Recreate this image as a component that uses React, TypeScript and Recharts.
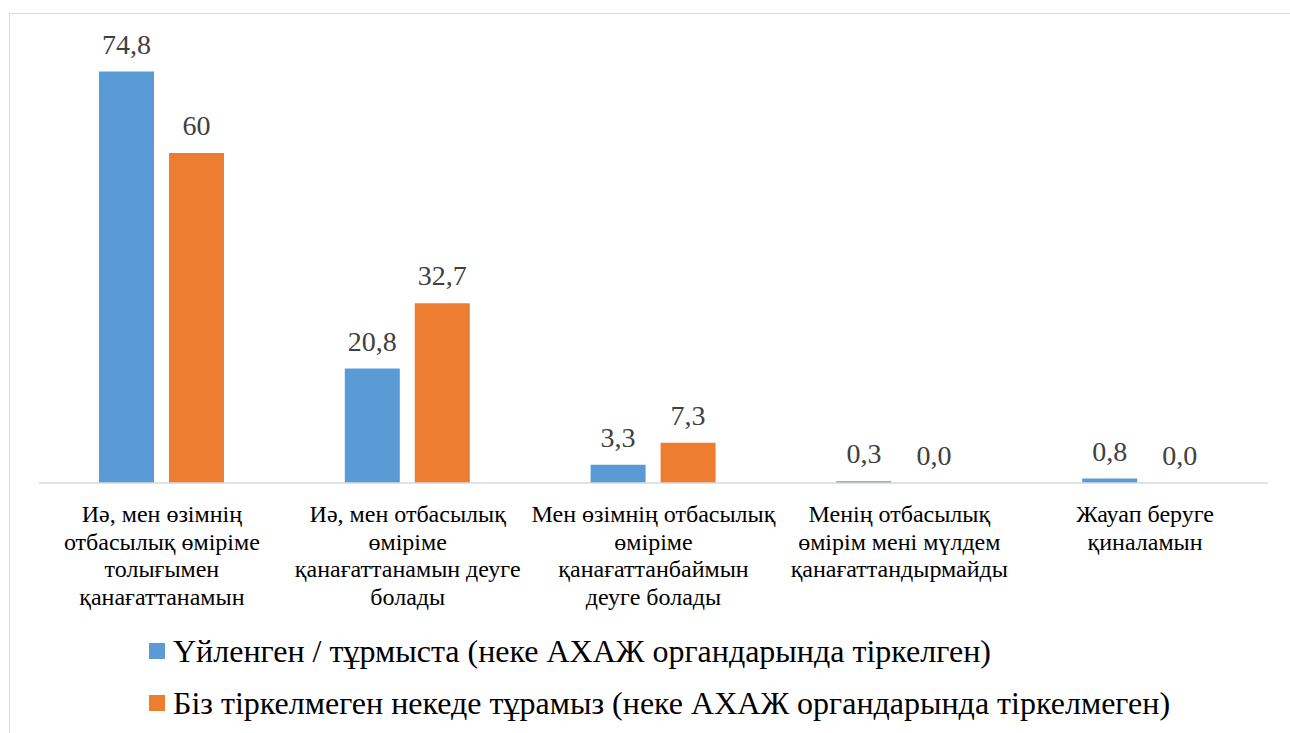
import React from "react";
import { BarChart, Bar, XAxis, YAxis, Legend, LabelList } from "recharts";

const categories = [
  "Иә, мен өзімнің\nотбасылық өміріме\nтолығымен\nқанағаттанамын",
  "Иә, мен отбасылық\nөміріме\nқанағаттанамын деуге\nболады",
  "Мен өзімнің отбасылық\nөміріме\nқанағаттанбаймын\nдеуге болады",
  "Менің отбасылық\nөмірім мені мүлдем\nқанағаттандырмайды",
  "Жауап беруге\nқиналамын",
];
const marriedValues = [74.8, 20.8, 3.3, 0.3, 0.8];
const unregisteredValues = [60, 32.7, 7.3, 0.0, 0.0];
const seriesKeys = ["married", "unregistered"];
const seriesNames = [
  "Үйленген / тұрмыста (неке АХАЖ органдарында тіркелген)",
  "Біз тіркелмеген некеде тұрамыз (неке АХАЖ органдарында тіркелмеген)",
];
const seriesColors = ["#5B9BD5", "#ED7D31"];

const data = categories.map((c, i) => ({
  name: c,
  married: marriedValues[i],
  unregistered: unregisteredValues[i],
}));

const FONT = '"Times New Roman", "Liberation Serif", Tinos, "DejaVu Serif", serif';

const fmt = (v: any) => (Number(v) === 0 ? "0,0" : String(v).replace(".", ","));

const Tick = (props: any) => {
  const { x, y, payload } = props;
  const lines = String(payload.value).split("\n");
  return (
    <text x={x} y={y} textAnchor="middle" fill="#000" fontSize={24} style={{ fontFamily: FONT }}>
      {lines.map((l, i) => (
        <tspan key={i} x={x} dy={i === 0 ? 39 : 27.7}>
          {l}
        </tspan>
      ))}
    </text>
  );
};

const ValueLabel = (props: any) => {
  const { x, y, width, value, viewBox } = props;
  const vx = viewBox ? viewBox.x : x;
  const vy = viewBox ? viewBox.y : y;
  const vw = viewBox ? viewBox.width : width;
  return (
    <text x={vx + vw / 2} y={vy - 18} textAnchor="middle" fill="#404040" fontSize={28} style={{ fontFamily: FONT }}>
      {fmt(value)}
    </text>
  );
};

const LegendContent = (props: any) => {
  const { payload } = props;
  const items = [...(payload || [])].sort(
    (a: any, b: any) => seriesKeys.indexOf(a.dataKey) - seriesKeys.indexOf(b.dataKey)
  );
  return (
    <div style={{ fontFamily: FONT, fontSize: 32, color: "#000" }}>
      {items.map((p: any, i: number) => (
        <div key={i} style={{ display: "flex", alignItems: "center", height: 52, lineHeight: "52px", whiteSpace: "nowrap" }}>
          <span style={{ display: "inline-block", width: 16, height: 16, background: p.color, marginRight: 8 }} />
          <span>{p.value}</span>
        </div>
      ))}
    </div>
  );
};

const minSize = (value: any) => (Number(value) === 0 ? 0.01 : 0);

export default function App() {
  return (
    <div style={{ position: "absolute", left: 0, top: 0, width: 1290, height: 733, overflow: "hidden", background: "#fff" }}>
      <div
        style={{
          position: "absolute",
          left: 9,
          top: 13,
          width: 1400,
          height: 900,
          border: "1.5px solid #d9d9d9",
        }}
      />
      <div style={{ position: "absolute", left: 0, top: 0 }}>
        <BarChart
          width={1290}
          height={733}
          data={data}
          margin={{ top: 43, right: 22, bottom: 0, left: 39 }}
          barSize={55}
          barGap={15}
        >
          <XAxis
            dataKey="name"
            axisLine={{ stroke: "#d9d9d9", strokeWidth: 1.5 }}
            tickLine={false}
            tickSize={0}
            tickMargin={0}
            interval={0}
            height={250}
            tick={<Tick />}
          />
          <YAxis hide domain={[0, 80]} />
          <Legend
            layout="vertical"
            align="center"
            verticalAlign="middle"
            content={<LegendContent />}
            wrapperStyle={{ left: 149, top: 625, width: 1130 }}
          />
          {seriesKeys.map((k, i) => (
            <Bar
              key={k}
              dataKey={k}
              name={seriesNames[i]}
              fill={seriesColors[i]}
              minPointSize={minSize}
              isAnimationActive={false}
            >
              <LabelList dataKey={k} position="top" content={<ValueLabel />} />
            </Bar>
          ))}
        </BarChart>
      </div>
    </div>
  );
}
